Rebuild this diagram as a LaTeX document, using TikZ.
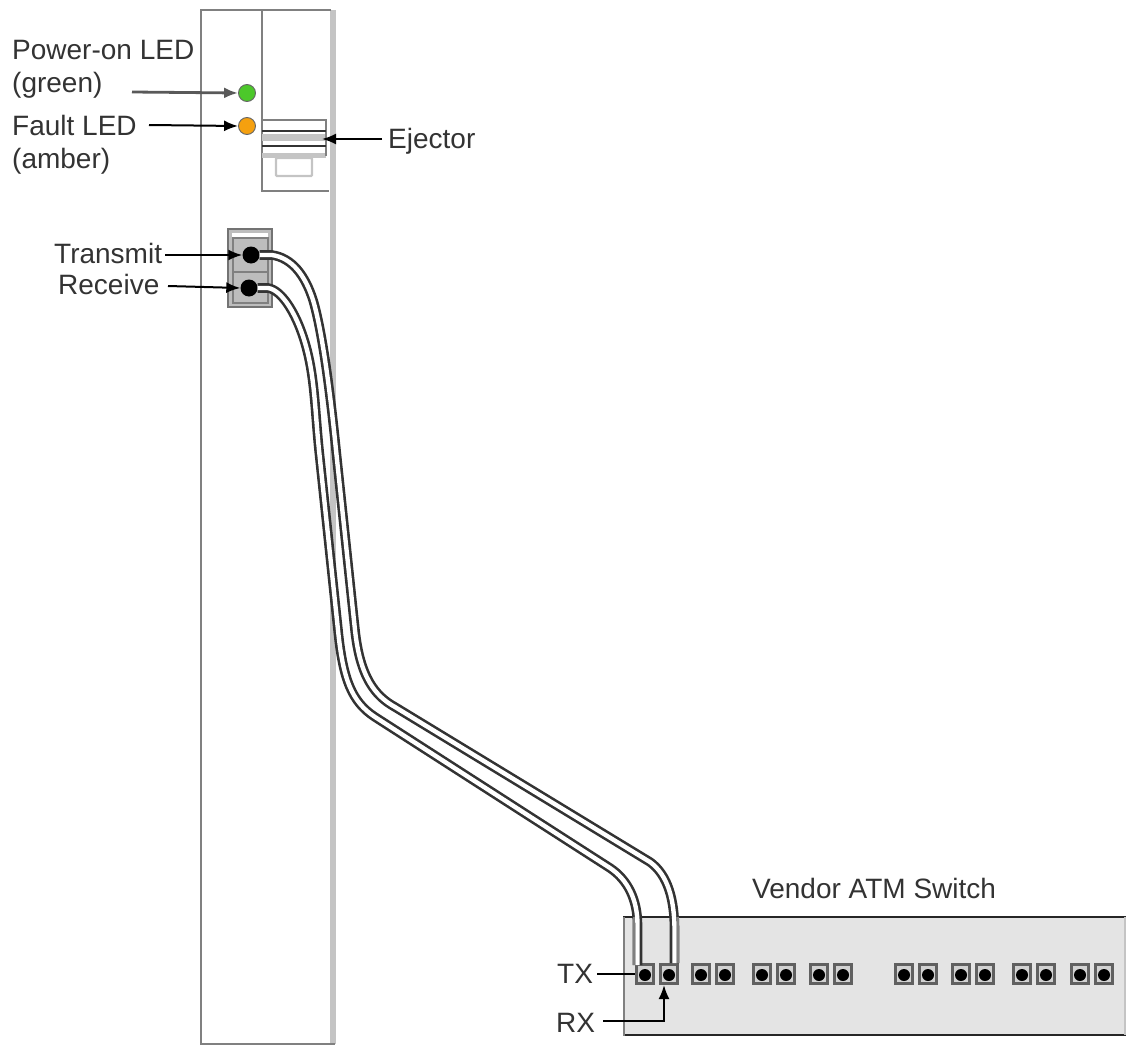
\documentclass[tikz,border=0pt]{standalone}
\usepackage{fontspec}
\setmainfont{Liberation Sans}
\usetikzlibrary{arrows.meta}
\definecolor{cardline}{HTML}{808080}
\definecolor{band}{HTML}{C4C4C4}
\definecolor{sw}{HTML}{E4E4E4}
\definecolor{portd}{HTML}{606060}
\definecolor{portm}{HTML}{D2D2D2}
\definecolor{conn}{HTML}{BDBDBD}
\definecolor{labelc}{HTML}{333333}
\definecolor{ledg}{HTML}{4CC82A}
\definecolor{ledo}{HTML}{F5A00F}
\tikzset{
  x=1pt,y=-1pt,
  lbl/.style={inner sep=0pt,anchor=base west,text=labelc,font=\fontsize{28}{33}\selectfont,align=left},
  callout/.style={draw=black,line width=2pt,-{Latex[length=14pt,width=11pt]}},
  led/.style={circle,draw=black!60,fill=#1,line width=0.9pt,minimum size=17pt,inner sep=0pt},
  hole/.style={circle,fill=black,minimum size=17pt,inner sep=0pt},
  smallhole/.style={circle,fill=black,minimum size=12pt,inner sep=0pt},
  portbox/.style={draw=portd,line width=3.4pt,fill=portm,minimum width=17pt,minimum height=18.6pt,inner sep=0pt},
  cardbox/.style={draw=cardline,line width=1.8pt},
  module/.style={draw=cardline,line width=1.6pt,fill=conn},
}
\newcommand{\swport}[2]{\node[portbox] (p#1) at (#2,974) {}; \node[smallhole] (h#1) at (#2,975) {};}
\begin{document}
\begin{tikzpicture}
\useasboundingbox (0,0) rectangle (1126,1046);
% card
\fill[band] (329.5,10) rectangle (335.5,1044);
\draw[cardbox] (331,10) -- (201,10) -- (201,1044) -- (335,1044);
\draw[cardbox] (262,10) -- (262,191) -- (329,191);
% ejector
\fill[band] (262,134) rectangle (326,141);
\fill[band] (262,153) rectangle (326,158);
\draw[cardline,line width=1.5pt] (262,120) -- (326,120) -- (326,156);
\draw[black!80,line width=1.6pt] (262,131) -- (326,131) (262,146) -- (326,146);
\draw[band,line width=2.2pt,rounded corners=1pt] (276,158) rectangle (312,176);
\coordinate (ej) at (322,139);
% LEDs
\node[led=ledg] (gled) at (247,93) {};
\node[led=ledo] (oled) at (247,126) {};
% fibre connector
\draw[draw=black!55,line width=1.2pt,fill=conn] (228,229) rectangle (272,307);
\fill[white] (232,233) rectangle (268,238);
\draw[module] (233,238) rectangle (268,272);
\draw[module] (233,272) rectangle (268,303);
\node[hole] (tx) at (251,255) {};
\node[hole] (rx) at (249,288) {};
% switch
\draw[draw=none,fill=sw] (623,917) rectangle (1126,1035);
\draw[black!85,line width=2pt] (1126,917) -- (623,917);
\draw[black!85,line width=2pt] (1126,1035) -- (623,1035);
\draw[cardline,line width=2.4pt] (624,917) -- (624,1036);
\draw[band,line width=1.5pt] (1125,917) -- (1125,1035);
% ports
\swport{a}{645}\swport{b}{669}\swport{c}{701}\swport{d}{725}
\swport{e}{762}\swport{f}{786}\swport{g}{819}\swport{h}{843}
\swport{i}{904}\swport{j}{928}\swport{k}{961}\swport{l}{985}
\swport{m}{1022}\swport{n}{1046}\swport{o}{1080}\swport{p}{1104}
% cables
\def\cableA{(tx.east) -- (272,255) .. controls (292,258) and (305,275) .. (313,300) .. controls (322,330) and (330,390) .. (336,450) -- (355,630) .. controls (360,677) and (375,696) .. (395,707) -- (650,862) .. controls (668,875) and (674.5,900) .. (674.5,930) -- (674.5,963)}
\def\cableB{(rx.east) -- (268,288) .. controls (282,290) and (298,315) .. (307,350) .. controls (314.7,380) and (315,410) .. (319,450) -- (338,630) .. controls (343,680) and (352,702) .. (375,717) -- (610,868) .. controls (628,880) and (637.5,900) .. (637.5,925) -- (637.5,965)}
\draw[black!80,line width=9.6pt] \cableA;
\draw[white,line width=4.4pt] \cableA;
\draw[black!80,line width=9.6pt] \cableB;
\draw[white,line width=4.4pt] \cableB;
\draw[cardline,line width=2.6pt] (633.9,917) -- (633.9,965);
\draw[cardline,line width=2.6pt] (678.1,917) -- (678.1,963);
% labels
\node[lbl] (lpower) at (12,93) {Power-on LED\\(green)};
\node[lbl] (lfault) at (12,168) {Fault LED\\(amber)};
\node[lbl] (lej) at (388,148) {Ejector};
\node[lbl] (ltx) at (54,263) {Transmit};
\node[lbl] (lrx) at (58,294) {Receive};
\node[lbl] (lsw) at (752,898) {Vendor ATM Switch};
\node[lbl] (ltxp) at (557,983) {TX};
\node[lbl] (lrxp) at (556,1032) {RX};
% callouts
\coordinate (gs) at (132,92);
\coordinate (os) at (149,125);
\coordinate (ejs) at (382,139);
\coordinate (txs) at (165,255);
\coordinate (rxs) at (168,286);
\coordinate (rxturn) at (664,1021);
\coordinate (rxtip) at (664,985);
\coordinate (txs2) at (597,974);
\coordinate (rxs2) at (603,1021);
\draw[callout,draw=black!65,line width=2.8pt] (gs) -- (gled.west);
\draw[callout] (os) -- (oled.west);
\draw[callout] (ejs) -- (ej);
\draw[callout] (txs) -- (tx.west);
\draw[callout] (rxs) -- (rx.west);
\draw[line width=2pt,black] (txs2) -- (pa.west);
\draw[callout] (rxs2) -- (rxturn) -- (rxtip);
\end{tikzpicture}
\end{document}
